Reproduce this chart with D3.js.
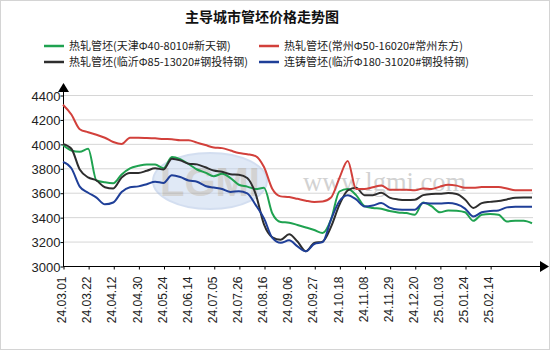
<!DOCTYPE html>
<html><head><meta charset="utf-8">
<script src="https://cdn.jsdelivr.net/npm/d3@7/dist/d3.min.js"></script>
<style>body{margin:0;background:#fff}svg{display:block}</style>
</head><body><svg id="c" width="550" height="350"></svg>
<script>
const dates = ["24.03.01","24.03.08","24.03.15","24.03.22","24.03.29","24.04.03","24.04.12","24.04.19","24.04.25","24.04.30","24.05.10","24.05.17","24.05.24","24.05.31","24.06.07","24.06.14","24.06.21","24.06.28","24.07.05","24.07.12","24.07.19","24.07.26","24.08.02","24.08.09","24.08.16","24.08.23","24.08.30","24.09.06","24.09.13","24.09.20","24.09.27","24.10.08","24.10.11","24.10.18","24.10.25","24.11.01","24.11.08","24.11.15","24.11.22","24.11.29","24.12.06","24.12.13","24.12.20","24.12.25","24.12.30","25.01.03","25.01.10","25.01.17","25.01.24","25.01.27","25.02.07","25.02.14","25.02.21","25.02.28","25.03.07","25.03.14","25.03.21"];
const tickLabels = ["24.03.01","24.03.22","24.04.12","24.04.30","24.05.24","24.06.14","24.07.05","24.07.26","24.08.16","24.09.06","24.09.27","24.10.18","24.11.08","24.11.29","24.12.20","25.01.03","25.01.24","25.02.14"];
const yTicks = [3000,3200,3400,3600,3800,4000,4200,4400];
const seriesNames = ["热轧管坯(天津Φ40-8010#新天钢)","热轧管坯(常州Φ50-16020#常州东方)","热轧管坯(临沂Φ85-13020#钢投特钢)","连铸管坯(临沂Φ180-31020#钢投特钢)"];
const seriesColors = ["#1fa250","#d2403b","#2e2e2e","#1f3f98"];
const tianjin = [3990,3945,3935,3960,3700,3685,3678,3750,3800,3820,3832,3830,3800,3893,3875,3835,3790,3765,3735,3755,3720,3665,3650,3630,3640,3430,3360,3355,3335,3315,3295,3270,3380,3610,3630,3580,3490,3475,3468,3450,3438,3433,3420,3520,3490,3440,3455,3452,3440,3370,3420,3425,3420,3365,3370,3370,3350];
const changzhou = [4320,4240,4120,4095,4075,4050,4015,3998,4050,4050,4048,4045,4040,4038,4030,4030,4010,3990,3970,3965,3945,3925,3915,3900,3810,3630,3570,3565,3550,3535,3525,3528,3560,3720,3860,3630,3630,3645,3660,3625,3625,3625,3620,3635,3630,3650,3665,3658,3640,3640,3647,3647,3647,3635,3620,3620,3620];
const linyiHot = [4000,3960,3790,3725,3700,3645,3635,3725,3762,3762,3780,3800,3790,3878,3865,3838,3832,3808,3782,3772,3752,3748,3720,3590,3340,3235,3215,3260,3200,3120,3188,3200,3320,3500,3620,3640,3580,3580,3600,3560,3545,3540,3542,3580,3590,3592,3597,3590,3545,3475,3515,3525,3532,3545,3558,3560,3560];
const linyiCast = [3852,3800,3650,3600,3560,3505,3520,3605,3645,3652,3670,3690,3680,3742,3728,3700,3690,3655,3642,3630,3606,3612,3595,3500,3390,3230,3190,3210,3160,3120,3180,3195,3380,3530,3580,3545,3488,3495,3515,3478,3462,3460,3460,3515,3512,3512,3515,3505,3470,3405,3440,3450,3455,3480,3485,3485,3485];
const seriesValues = [tianjin, changzhou, linyiHot, linyiCast];

const svg = d3.select("#c");
svg.append("rect").attr("x",0.5).attr("y",0.5).attr("width",549).attr("height",349)
  .attr("fill","#fff").attr("stroke","#d4d4d4");

const x = d3.scalePoint().domain(dates).range([63, 532]);
const y = d3.scaleLinear().domain([3000, 4400]).range([266, 95]);

// title
svg.append("text").attr("x",262).attr("y",22).attr("text-anchor","middle")
  .attr("font-family","'Noto Sans CJK SC'").attr("font-weight","bold").attr("font-size",14)
  .attr("fill","#111").text("主导城市管坯价格走势图");

// legend
const legPos = [[44,46],[259,46],[44,62],[259,62]];
seriesNames.forEach((n,i)=>{
  const [lx,ly] = legPos[i];
  svg.append("line").attr("x1",lx).attr("x2",lx+20).attr("y1",ly).attr("y2",ly)
    .attr("stroke",seriesColors[i]).attr("stroke-width",2.5);
  svg.append("text").attr("x",lx+25).attr("y",ly+4)
    .attr("font-family","'Noto Sans CJK SC'").attr("font-size",11).attr("fill","#222").text(n);
});

// grid
svg.append("g").selectAll("line").data(yTicks.filter(v=>v>3000)).join("line")
  .attr("x1",63).attr("x2",533).attr("y1",d=>y(d)+0.5).attr("y2",d=>y(d)+0.5)
  .attr("stroke","#d6d6d6").attr("stroke-width",1);

// watermark
const wm = svg.append("g").attr("opacity",0.5);
wm.append("ellipse").attr("cx",210).attr("cy",181).attr("rx",57).attr("ry",28)
  .attr("fill","#c3d4ee").attr("stroke","#a9bfe3").attr("stroke-width",2);
wm.append("text").attr("x",210).attr("y",196).attr("text-anchor","middle")
  .attr("font-family","'Liberation Sans'").attr("font-weight","bold").attr("font-size",40)
  .attr("fill","#a8a8a8").text("LGMI");
svg.append("text").attr("x",303).attr("y",191).attr("font-family","'Liberation Serif'")
  .attr("font-size",26.5).attr("fill","#d2d2d2").text("www.lgmi.com");

// y axis
const yAxis = d3.axisLeft(y).tickValues(yTicks).tickSize(3).tickFormat(d3.format("d"));
const ga = svg.append("g").attr("transform","translate(63.5,0.5)").call(yAxis);
ga.select(".domain").remove();
ga.selectAll(".tick line").attr("stroke","#000");
ga.selectAll("text").attr("font-family","'Liberation Sans'").attr("font-size",13).attr("fill","#222").attr("x",-3).attr("dy","0.36em");
svg.append("line").attr("x1",63.5).attr("x2",63.5).attr("y1",266).attr("y2",90).attr("stroke","#000");
svg.append("path").attr("d","M58,92 L63.5,83 L69,92 Z").attr("fill","#000");

// x axis
const xAxis = d3.axisBottom(x).tickValues(tickLabels).tickSize(3);
const gx = svg.append("g").attr("transform","translate(0.5,266.5)").call(xAxis);
gx.select(".domain").remove();
gx.selectAll(".tick line").attr("stroke","#000");
gx.selectAll("text").attr("font-family","'Liberation Sans'").attr("font-size",12).attr("fill","#222")
  .attr("transform","rotate(-90)").attr("text-anchor","end").attr("x",-10).attr("y",-2).attr("dy","0.35em");
svg.append("line").attr("x1",63).attr("x2",541).attr("y1",266.5).attr("y2",266.5).attr("stroke","#000");
svg.append("path").attr("d","M540,261 L549,266.5 L540,272 Z").attr("fill","#000");

// lines
const line = d3.line().x((d,i)=>x(dates[i])).y(d=>y(d)).curve(d3.curveMonotoneX);
const order = [0,2,3,1];
order.forEach(i=>{
  svg.append("path").datum(seriesValues[i]).attr("d",line).attr("fill","none")
    .attr("stroke",seriesColors[i]).attr("stroke-width",2).attr("stroke-linejoin","round");
});
</script></body></html>
